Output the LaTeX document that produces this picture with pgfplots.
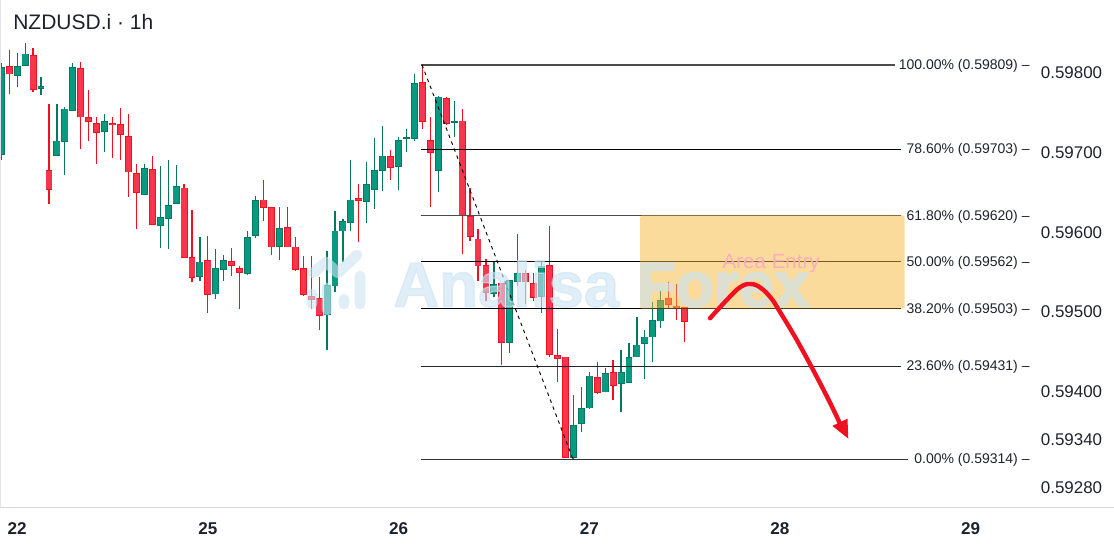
\documentclass[border=0pt]{standalone}
\usepackage{pgfplots}
\usepackage{pgfplotstable}
\usepackage{fontspec}
\setmainfont{Liberation Sans}
\newfontfamily\wmfont[FakeBold=2.2]{Liberation Sans Bold}
\pgfplotsset{compat=1.18}
\definecolor{upfill}{HTML}{089981}
\definecolor{upedge}{HTML}{06785F}
\definecolor{dnfill}{HTML}{F7354D}
\definecolor{dnedge}{HTML}{F01020}
\definecolor{zone}{HTML}{F8B739}
\definecolor{wm}{RGB}{203,227,242}
\definecolor{txt}{HTML}{1E222D}
% prices are in units of 0.00001; h = hours from 22 00:00 in candle steps
\pgfplotstableread{
h high top bot low
-2 59811 59806 59696 59689
0 59824 59807 59795 59781
1 59836 59823 59808 59808
3 59794 59782 59779 59771
5 59760 59714 59695 59695
6 59756 59754 59712 59671
7 59811 59806 59751 59751
11 59747 59738 59725 59700
16 59684 59679 59646 59646
18 59682 59618 59607 59579
19 59689 59633 59616 59578
20 59683 59657 59634 59634
23 59593 59562 59543 59538
25 59578 59554 59521 59515
26 59570 59564 59552 59538
29 59601 59593 59547 59546
30 59645 59639 59594 59592
33 59630 59604 59581 59564
39 59576 59533 59495 59451
40 59626 59601 59531 59524
41 59616 59613 59600 59562
42 59689 59640 59611 59601
44 59687 59659 59637 59610
45 59717 59677 59652 59628
46 59732 59695 59676 59651
48 59719 59715 59681 59652
49 59728 59718 59716 59699
50 59798 59786 59716 59714
53 59770 59769 59676 59649
55 59764 59738 59736 59718
60 59562 59534 59522 59518
62 59539 59539 59460 59448
63 59597 59548 59537 59532
66 59562 59556 59518 59497
70 59395 59357 59316 59313
71 59405 59378 59358 59348
72 59424 59419 59378 59377
74 59428 59422 59398 59398
76 59451 59423 59409 59373
77 59460 59442 59410 59410
78 59493 59458 59442 59442
79 59476 59468 59459 59415
80 59511 59489 59467 59436
81 59526 59514 59487 59479
}\upcandles
\pgfplotstableread{
h high top bot low
-1 59828 59807 59797 59772
2 59830 59821 59778 59775
4 59760 59677 59652 59634
8 59813 59805 59743 59703
9 59777 59743 59737 59714
10 59743 59736 59724 59684
12 59743 59736 59733 59692
13 59755 59735 59721 59690
14 59747 59720 59674 59643
15 59685 59673 59648 59603
17 59695 59678 59608 59608
21 59660 59655 59567 59567
22 59627 59568 59542 59537
24 59594 59564 59520 59497
27 59579 59563 59557 59544
28 59557 59554 59548 59503
31 59665 59640 59629 59613
32 59630 59630 59580 59570
34 59631 59605 59580 59580
35 59593 59581 59552 59550
36 59569 59554 59520 59519
37 59569 59519 59514 59503
38 59543 59516 59494 59476
43 59660 59642 59638 59587
47 59702 59694 59680 59665
51 59808 59787 59737 59728
52 59743 59715 59698 59631
54 59768 59767 59735 59734
56 59753 59739 59619 59571
57 59655 59619 59593 59588
58 59603 59591 59556 59538
59 59565 59558 59523 59513
61 59535 59535 59460 59432
64 59552 59548 59536 59509
65 59548 59535 59517 59513
67 59607 59558 59445 59442
68 59478 59445 59440 59411
69 59443 59443 59316 59316
73 59436 59417 59397 59396
75 59439 59423 59406 59388
82 59537 59516 59508 59502
83 59534 59507 59503 59489
84 59505 59505 59486 59461
}\dncandles
\newcommand{\candles}[3]{%
 \addplot[draw=none,mark=none,forget plot,
   error bars/.cd,y dir=both,y explicit,error mark=none,
   error bar style={draw=#2,line width=0.9pt}]
   table[x=h,y=bot,y error plus expr={\thisrow{high}-\thisrow{bot}},y error minus expr={\thisrow{bot}-\thisrow{low}}] {#1};
 \addplot[draw=none,mark=none,forget plot,
   error bars/.cd,y dir=plus,y explicit,error mark=none,
   error bar style={draw=#2,line width=5.2pt}]
   table[x=h,y=bot,y error plus expr={\thisrow{top}-\thisrow{bot}},y error minus expr={0}] {#1};
 \addplot[draw=none,mark=none,forget plot,
   error bars/.cd,y dir=plus,y explicit,error mark=none,
   error bar style={draw=#3,line width=4pt}]
   table[x=h,y expr={\thisrow{bot}+1},y error plus expr={max(\thisrow{top}-\thisrow{bot}-2,0)},y error minus expr={0}] {#1};
}
\pgfplotsset{chartbox/.style={
  at={(0,30pt)},anchor=south west,scale only axis,
  width=774.75pt,height=380.25pt,
  xmin=-2.164,xmax=127.85,ymin=59254.2,ymax=59890.3}}
\tikzset{fib/.style={anchor=east,inner sep=0pt,text=txt,yshift=-0.75pt,font=\fontsize{10.5}{12}\selectfont}}
\begin{document}
\begin{tikzpicture}
\path[use as bounding box] (0,0) rectangle (835.5pt,410.25pt);
\begin{axis}[chartbox,
  axis line style={draw=none},
  major tick length=0pt,
  xtick={0,24,48,72,96,120},
  xticklabels={22,25,26,27,28,29},
  xticklabel style={font=\fontsize{12.8}{14}\selectfont\bfseries,text=txt,yshift=-8pt},
  ytick={59800,59700,59600,59500,59400,59340,59280},
  yticklabels={0.59800,0.59700,0.59600,0.59500,0.59400,0.59340,0.59280},
  yticklabel pos=right,
  yticklabel style={font=\fontsize{12.7}{14}\selectfont,text=txt,anchor=west,xshift=2.4pt,yshift=-0.75pt},
]
\candles{\upcandles}{upedge}{upfill}
\candles{\dncandles}{dnedge}{dnfill}
% Fibonacci levels
\addplot[black!70,line width=1.2pt,forget plot] coordinates {(50.8,59809)(110.5,59809)};
\addplot[black,line width=0.8pt,forget plot] coordinates {(50.8,59703)(111.2,59703)};
\addplot[black!70,line width=1.1pt,forget plot] coordinates {(50.8,59620)(111.2,59620)};
\addplot[black,line width=0.8pt,forget plot] coordinates {(50.8,59562)(111.2,59562)};
\addplot[black,line width=0.9pt,forget plot] coordinates {(50.8,59503)(111.2,59503)};
\addplot[black!85,line width=0.85pt,forget plot] coordinates {(50.8,59431)(111.2,59431)};
\addplot[black!80,line width=1pt,forget plot] coordinates {(50.8,59314)(112.1,59314)};
\addplot[black,line width=0.7pt,dash pattern=on 2.6pt off 3pt,forget plot] coordinates {(50.95,59809)(69.96,59314)};
% entry zone
\addplot[fill=zone,draw=none,fill opacity=0.5,rounded corners=1.5pt,forget plot]
  coordinates {(78.4,59620)(111.7,59620)(111.7,59503)(78.4,59503)} --cycle;
\end{axis}
% watermark (page coordinates in pixels from the top left)
\begin{scope}[shift={(0,410.25pt)},x=0.75pt,y=-0.75pt]
\draw[wm,opacity=0.6,line width=8pt,line cap=round,line join=round]
  (312,294)--(312,304) (327,288)--(327,310) (344,299)--(344,304) (360,276)--(360,304)
  (313,273)--(326,262)--(338,273)--(357,255);
\node[wm,opacity=0.6,font=\fontsize{47.6}{50}\selectfont\wmfont,anchor=center,inner sep=0pt] at (601.5,284) {Analisa Forex};
\draw[draw={rgb,255:red,216;green,219;blue,227},line width=0.75pt] (0,507)--(1114,507);
\draw[draw={rgb,255:red,225;green,227;blue,233},line width=0.5pt] (0.4,0)--(0.4,507);
\node[font=\fontsize{15.75}{18}\selectfont,text=txt,anchor=west,inner sep=0pt] at (13,22) {NZDUSD.i · 1h};
\end{scope}
\begin{axis}[chartbox,hide axis,clip=false]
% drawn path of the trade idea
\addplot[draw={rgb,255:red,240;green,16;blue,32},line width=3.3pt,smooth,tension=0.7,line cap=round,forget plot]
 coordinates {(87.2,59491)(89.5,59516)(91.0,59530)(92.3,59534)(93.6,59529)(94.9,59516)(96.0,59499)(98.5,59457)(101.7,59397)(103.6,59358)};
\addplot[fill={rgb,255:red,240;green,16;blue,32},draw=none,forget plot]
 coordinates {(104.6,59340)(102.6,59356)(104.5,59365)} --cycle;
\node[text={rgb,255:red,250;green,172;blue,190},font=\fontsize{15.4}{18}\selectfont,inner sep=0pt] at (axis cs:94.9,59559) {Area Entry};
\node[fib] at (axis cs:127.45,59809) {100.00\% (0.59809) –};
\node[fib] at (axis cs:127.45,59703) {78.60\% (0.59703) –};
\node[fib] at (axis cs:127.45,59620) {61.80\% (0.59620) –};
\node[fib] at (axis cs:127.45,59562) {50.00\% (0.59562) –};
\node[fib] at (axis cs:127.45,59503) {38.20\% (0.59503) –};
\node[fib] at (axis cs:127.45,59431) {23.60\% (0.59431) –};
\node[fib] at (axis cs:127.45,59314) {0.00\% (0.59314) –};
\end{axis}
\end{tikzpicture}
\end{document}
